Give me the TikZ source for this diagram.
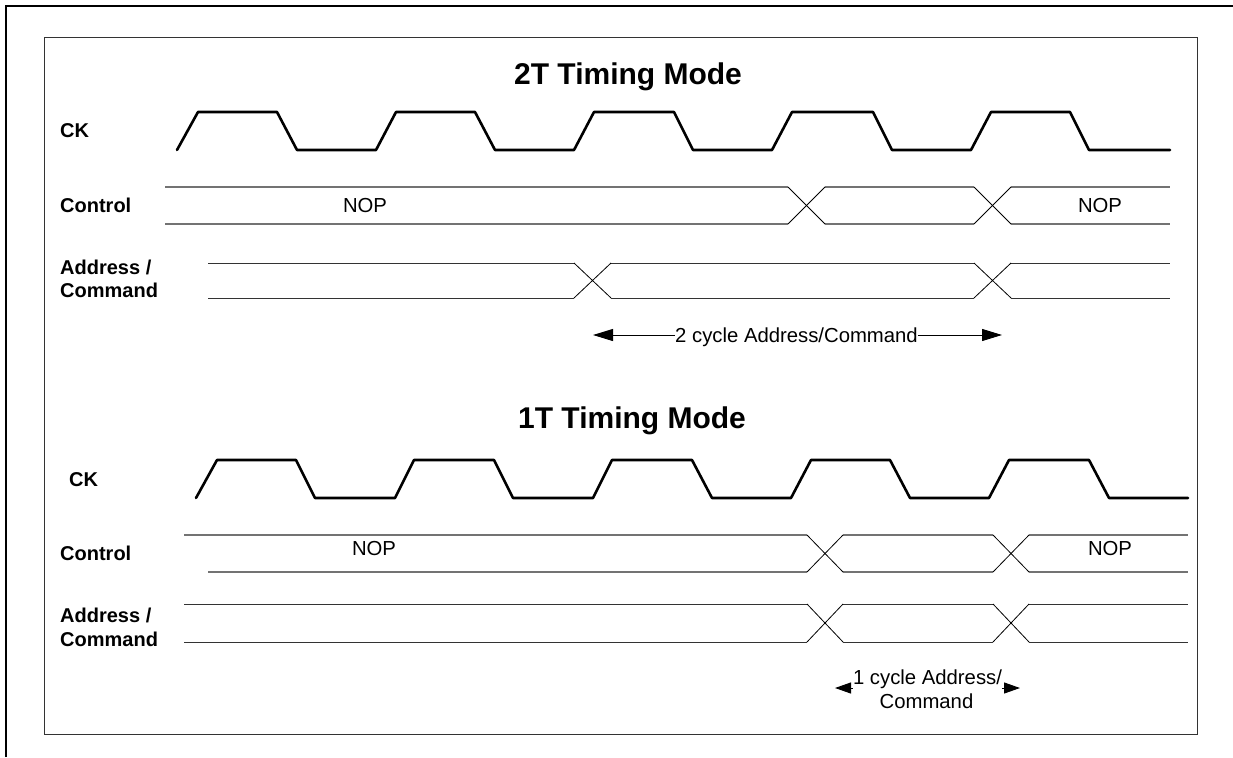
\documentclass[tikz,border=0pt]{standalone}
\usepackage{fontspec}
\setmainfont{Liberation Sans}
\usetikzlibrary{arrows.meta}
\begin{document}
\begin{tikzpicture}[x=1pt,y=-1pt,
  clk/.style={line width=2.6pt, line cap=round, line join=round},
  ctl/.style={draw=black!55, line width=1.3pt},
  adr/.style={draw=black!80, line width=1pt},
  xing/.style={draw=black, line width=0.8pt},
  lab/.style={font=\fontsize{20}{24}\selectfont\bfseries, anchor=base west, inner sep=0pt},
  txt/.style={font=\fontsize{20.3}{24}\selectfont, anchor=base, inner sep=0pt},
  ttl/.style={font=\fontsize{30}{36}\selectfont\bfseries, anchor=base, inner sep=0pt},
  arrA/.style={-{Triangle[length=20pt,width=12pt]}, line width=1pt},
  arrB/.style={-{Triangle[length=16pt,width=11pt]}, line width=1pt}]
\useasboundingbox (0,0) rectangle (1233,757);
\fill[white] (0,0) rectangle (1233,757);
% frames
\draw[line width=2pt] (6,757) -- (6,6) -- (1233,6);
\draw[draw=black!80, line width=1pt] (44,38) rectangle (1197,734);

% ===== 2T =====
\node[ttl] (t2) at (628,85) {2T Timing Mode};
\node[lab] (ck2) at (60,138) {CK};
\node[lab] (ct2) at (60,212) {Control};
\node[lab] (ad2a) at (60,274) {Address /};
\node[lab] (ad2b) at (60,297) {Command};

\draw[clk] (177,150) -- (198,112) -- (277,112) -- (297,150) -- (376,150) -- (396,112)
  -- (475,112) -- (495,150) -- (574,150) -- (594,112) -- (674,112) -- (693,150)
  -- (772,150) -- (792,112) -- (873,112) -- (892,150) -- (971,150) -- (991,112)
  -- (1070,112) -- (1089,150) -- (1170,150);

% control 2T
\foreach \y in {187,224} {
  \draw[ctl] (165,\y) -- (788,\y);
  \draw[ctl] (825,\y) -- (974,\y);
  \draw[ctl] (1011,\y) -- (1170,\y);
}
\draw[xing] (788,187) -- (825,224);
\draw[xing] (788,224) -- (825,187);
\draw[xing] (974,187) -- (1011,224);
\draw[xing] (974,224) -- (1011,187);
\node[txt] (nop2a) at (365,212) {NOP};
\node[txt] (nop2b) at (1100,212) {NOP};

% address 2T
\foreach \y in {263,298} {
  \draw[adr] (208,\y) -- (574,\y);
  \draw[adr] (611,\y) -- (974,\y);
  \draw[adr] (1011,\y) -- (1170,\y);
}
\draw[xing] (574,263) -- (611,298);
\draw[xing] (574,298) -- (611,263);
\draw[xing] (974,263) -- (1011,298);
\draw[xing] (974,298) -- (1011,263);

% 2 cycle arrow
\node[txt] (cyc2) at (796.5,342) {2 cycle Address/Command};
\coordinate (tl2) at (593,335);
\coordinate (tr2) at (1002,335);
\draw[arrA] (cyc2.west |- tl2) -- (tl2);
\draw[arrA] (cyc2.east |- tr2) -- (tr2);

% ===== 1T =====
\node[ttl] (t1) at (632,428) {1T Timing Mode};
\node[lab] (ck1) at (69,486) {CK};
\node[lab] (ct1) at (60,560) {Control};
\node[lab] (ad1a) at (60,622) {Address /};
\node[lab] (ad1b) at (60,646) {Command};

\draw[clk] (196,498) -- (217,460) -- (296,460) -- (315,498) -- (395,498) -- (414,460)
  -- (494,460) -- (513,498) -- (593,498) -- (612,460) -- (692,460) -- (712,498)
  -- (791,498) -- (811,460) -- (890,460) -- (910,498) -- (989,498) -- (1009,460)
  -- (1089,460) -- (1109,498) -- (1188,498);

% control 1T
\draw[ctl] (184,535) -- (807,535);
\draw[ctl] (208,572) -- (807,572);
\foreach \y in {535,572} {
  \draw[ctl] (843,\y) -- (993,\y);
  \draw[ctl] (1029,\y) -- (1188,\y);
}
\draw[xing] (807,535) -- (843,572);
\draw[xing] (807,572) -- (843,535);
\draw[xing] (993,535) -- (1029,572);
\draw[xing] (993,572) -- (1029,535);
\node[txt] (nop1a) at (374,555) {NOP};
\node[txt] (nop1b) at (1110,555) {NOP};

% address 1T
\foreach \y in {604,642} {
  \draw[adr] (184,\y) -- (807,\y);
  \draw[adr] (843,\y) -- (993,\y);
  \draw[adr] (1029,\y) -- (1188,\y);
}
\draw[xing] (807,604) -- (843,642);
\draw[xing] (807,642) -- (843,604);
\draw[xing] (993,604) -- (1029,642);
\draw[xing] (993,642) -- (1029,604);

% 1 cycle arrows
\node[txt] (cyc1a) at (927.5,684) {1 cycle Address/};
\node[txt] (cyc1b) at (926.5,708) {Command};
\coordinate (tl1) at (835,688);
\coordinate (tr1) at (1020,688);
\draw[arrB] (cyc1a.west |- tl1) -- (tl1);
\draw[arrB] (cyc1a.east |- tr1) -- (tr1);
\end{tikzpicture}
\end{document}
